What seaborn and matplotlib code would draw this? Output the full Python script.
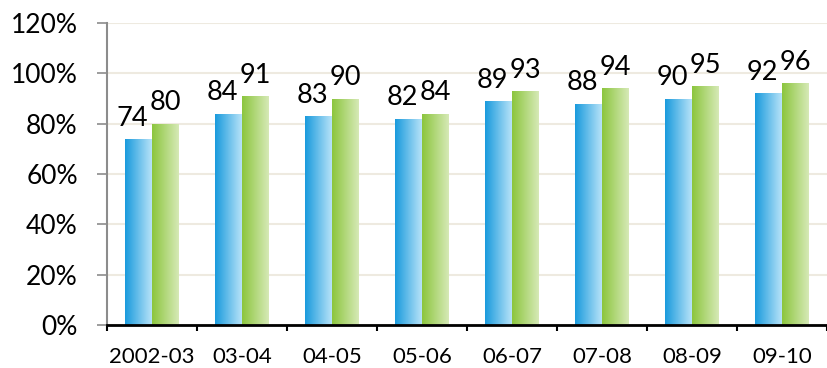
import numpy as np
import pandas as pd
import matplotlib
matplotlib.use("Agg")
import matplotlib.pyplot as plt
import seaborn as sns
from matplotlib.colors import LinearSegmentedColormap
from matplotlib.ticker import FuncFormatter, MultipleLocator

categories = ["2002-03", "03-04", "04-05", "05-06", "06-07", "07-08", "08-09", "09-10"]
series_names = ["Series 1", "Series 2"]
series_1 = [74, 84, 83, 82, 89, 88, 90, 92]
series_2 = [80, 91, 90, 84, 93, 94, 95, 96]

df = pd.DataFrame({
    "category": categories * 2,
    "series": [series_names[0]] * len(categories) + [series_names[1]] * len(categories),
    "value": series_1 + series_2,
})

sns.set_theme(style="white")
plt.rcParams["font.family"] = ["Lato", "DejaVu Sans"]

DPI = 100
fig = plt.figure(figsize=(8.27, 3.68), dpi=DPI)
ax = fig.add_axes([107 / 827, 1 - 325 / 368, 1 - 107 / 827, (325 - 23) / 368])

base_colors = {"Series 1": "#1A9BDD", "Series 2": "#8CC63E"}
light_colors = {"Series 1": "#B6E2F8", "Series 2": "#D6E9B6"}

sns.barplot(data=df, x="category", y="value", hue="series", order=categories,
            hue_order=series_names, palette=base_colors, width=0.59,
            dodge=True, legend=False, ax=ax, saturation=1, linewidth=0)

ax.set_ylim(0, 120)
ax.set_xlim(-0.5, len(categories) - 0.5)

# gradient fill for bars
bars = [p for p in ax.patches if p.get_height() > 0]
n = len(categories)
for i, p in enumerate(bars):
    s = series_names[0] if i < n else series_names[1]
    cmap = LinearSegmentedColormap.from_list("g", [base_colors[s], light_colors[s]])
    x0, w, h = p.get_x(), p.get_width(), p.get_height()
    grad = np.linspace(0, 1, 64).reshape(1, -1)
    im = ax.imshow(grad, cmap=cmap, aspect="auto", extent=[x0, x0 + w, 0, h],
                   origin="lower", zorder=p.get_zorder() + 0.1, interpolation="bilinear")
    im.set_clip_path(p)
    # data labels
    xoff = -4.5 if s == series_names[0] else 0
    ax.annotate(f"{int(h)}", (x0 + w / 2, h), xytext=(xoff, 9.5), textcoords="offset points",
                ha="center", va="baseline", fontsize=19.5, color="#000000", zorder=5)

ax.set_xlim(-0.5, len(categories) - 0.5)
ax.set_ylim(0, 120)

# grid
ax.yaxis.set_major_locator(MultipleLocator(20))
ax.grid(axis="y", color="#EEEAE0", linewidth=1.5, zorder=0)
ax.set_axisbelow(True)

ax.yaxis.set_major_formatter(FuncFormatter(lambda v, _: f"{int(v)}%"))
ax.tick_params(axis="y", which="major", length=7, width=1.2, color="#8C8C8C",
               direction="out", left=True, pad=14, labelsize=19, labelcolor="#000000")

# x ticks at category boundaries
ax.set_xticks(np.arange(len(categories)))
ax.set_xticklabels(categories)
ax.tick_params(axis="x", which="major", length=0, pad=16, labelsize=16, labelcolor="#000000")
ax.set_xticks(np.arange(len(categories) + 1) - 0.5, minor=True)
ax.tick_params(axis="x", which="minor", length=4, width=1.5, color="#000000",
               direction="out", bottom=True)

ax.set_xlabel("")
ax.set_ylabel("")

for side in ["top", "right"]:
    ax.spines[side].set_visible(False)
ax.spines["left"].set_color("#8C8C8C")
ax.spines["left"].set_linewidth(1.5)
ax.spines["bottom"].set_color("#000000")
ax.spines["bottom"].set_linewidth(2)
ax.spines["bottom"].set_zorder(6)

fig.savefig("out.png", dpi=DPI, facecolor="white")
